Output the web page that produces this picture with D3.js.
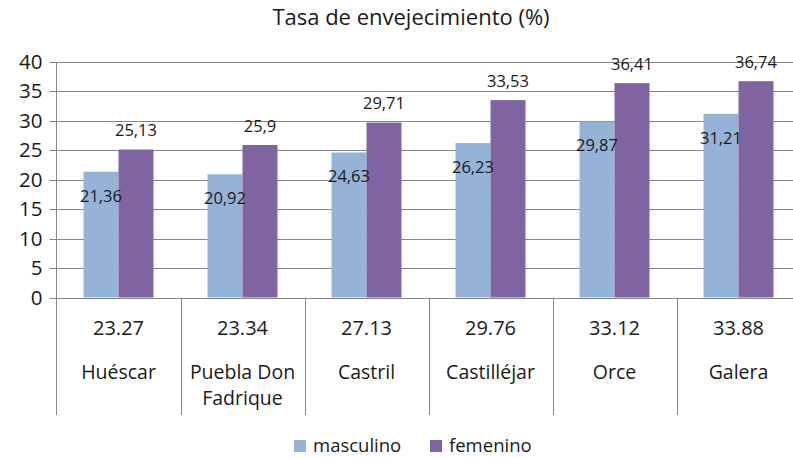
<!DOCTYPE html>
<html>
<head>
<meta charset="utf-8">
<script src="https://cdn.jsdelivr.net/npm/d3@7"></script>
<style>
  body { margin: 0; background: #fff; }
  text { font-family: "Open Sans", "Noto Sans", sans-serif; fill: #1a1a1a; }
</style>
</head>
<body>
<svg id="chart" width="793" height="458"></svg>
<script>
// datos del gráfico
const municipios = ["Huéscar", "Puebla Don Fadrique", "Castril", "Castilléjar", "Orce", "Galera"];
const tasaTotal = ["23.27", "23.34", "27.13", "29.76", "33.12", "33.88"];
const masculino = [21.36, 20.92, 24.63, 26.23, 29.87, 31.21];
const femenino = [25.13, 25.9, 29.71, 33.53, 36.41, 36.74];
const series = ["masculino", "femenino"];
const colores = ["#95B3D7", "#8064A2"];
const yTicks = [0, 5, 10, 15, 20, 25, 30, 35, 40];

const svg = d3.select("#chart");

// área del gráfico
const plotLeft = 56.5, plotRight = 800.5, plotTop = 62, plotBottom = 297.5, tableBottom = 415;
const gridColor = "#878787";

const x = d3.scaleBand().domain(municipios).range([plotLeft, plotRight]);
const xs = d3.scaleBand().domain(series).range([x.bandwidth() / 2 - 35, x.bandwidth() / 2 + 35]);
const y = d3.scaleLinear().domain([0, 40]).range([plotBottom, plotTop]);

// título
svg.append("text")
    .attr("x", 411)
    .attr("y", 25)
    .attr("text-anchor", "middle")
    .style("font-size", "22px")
    .text("Tasa de envejecimiento (%)");

// líneas de la cuadrícula + marcas
const yAxis = d3.axisLeft(y).tickValues(yTicks).tickSize(7).tickPadding(7);
const gy = svg.append("g")
    .attr("transform", `translate(${plotLeft},0)`)
    .call(yAxis);
gy.select(".domain").remove();
gy.selectAll(".tick line").attr("stroke", gridColor);
gy.selectAll(".tick text")
    .style("font-size", "20.5px")
    .style("font-family", "'Open Sans', sans-serif")
    .attr("fill", "#1a1a1a");

svg.append("g")
    .selectAll("line")
    .data(yTicks)
    .join("line")
    .attr("x1", plotLeft)
    .attr("x2", plotRight)
    .attr("y1", d => Math.round(y(d)) + 0.5)
    .attr("y2", d => Math.round(y(d)) + 0.5)
    .attr("stroke", gridColor)
    .attr("stroke-width", 1);
gy.selectAll(".tick").attr("transform", d => `translate(0,${Math.round(y(d)) + 0.5})`);

// eje vertical y separadores de la tabla
svg.append("line")
    .attr("x1", plotLeft).attr("x2", plotLeft)
    .attr("y1", plotTop).attr("y2", tableBottom)
    .attr("stroke", gridColor);

svg.append("g")
    .selectAll("line")
    .data(municipios.slice(1))
    .join("line")
    .attr("x1", d => Math.round(x(d)) + 0.5)
    .attr("x2", d => Math.round(x(d)) + 0.5)
    .attr("y1", plotBottom)
    .attr("y2", tableBottom)
    .attr("stroke", gridColor);

// barras
const grupos = svg.append("g")
    .selectAll("g")
    .data(municipios)
    .join("g")
    .attr("transform", d => `translate(${x(d)},0)`);

grupos.selectAll("rect")
    .data((d, i) => [
        { s: "masculino", v: masculino[i] },
        { s: "femenino", v: femenino[i] }
    ])
    .join("rect")
    .attr("x", d => xs(d.s))
    .attr("width", xs.bandwidth())
    .attr("y", d => y(d.v))
    .attr("height", d => y(0) - y(d.v))
    .attr("fill", d => colores[series.indexOf(d.s)]);

// etiquetas de datos
const fmt = v => String(v).replace(".", ",");
grupos.selectAll("text.lbl")
    .data((d, i) => [
        { s: "masculino", v: masculino[i] },
        { s: "femenino", v: femenino[i] }
    ])
    .join("text")
    .attr("class", "lbl")
    .attr("x", d => xs(d.s) + xs.bandwidth() / 2)
    .attr("y", d => d.s === "masculino" ? y(d.v) + 24 : y(d.v) - 19)
    .attr("dy", "0.35em")
    .attr("text-anchor", "middle")
    .style("font-size", "16.5px")
    .text(d => fmt(d.v));

// tabla bajo el eje
grupos.append("text")
    .attr("x", x.bandwidth() / 2)
    .attr("y", 328)
    .attr("dy", "0.35em")
    .attr("text-anchor", "middle")
    .style("font-size", "20px")
    .text((d, i) => tasaTotal[i]);

grupos.each(function (d) {
    const words = d.split(" ");
    const lines = words.length > 2 ? [words.slice(0, 2).join(" "), words.slice(2).join(" ")] : [d];
    d3.select(this).selectAll("text.name")
        .data(lines)
        .join("text")
        .attr("class", "name")
        .attr("x", x.bandwidth() / 2)
        .attr("y", (l, j) => 372 + j * 26)
        .attr("dy", "0.35em")
        .attr("text-anchor", "middle")
        .style("font-size", "19.5px")
        .text(l => l);
});

// leyenda
const legendX = [294, 430];
const leg = svg.append("g")
    .selectAll("g")
    .data(series)
    .join("g")
    .attr("transform", (d, i) => `translate(${legendX[i]},440)`);
leg.append("rect")
    .attr("width", 12)
    .attr("height", 12)
    .attr("fill", (d, i) => colores[i]);
leg.append("text")
    .attr("x", 19)
    .attr("y", 12)
    .style("font-size", "18.5px")
    .text(d => d);
</script>
</body>
</html>
